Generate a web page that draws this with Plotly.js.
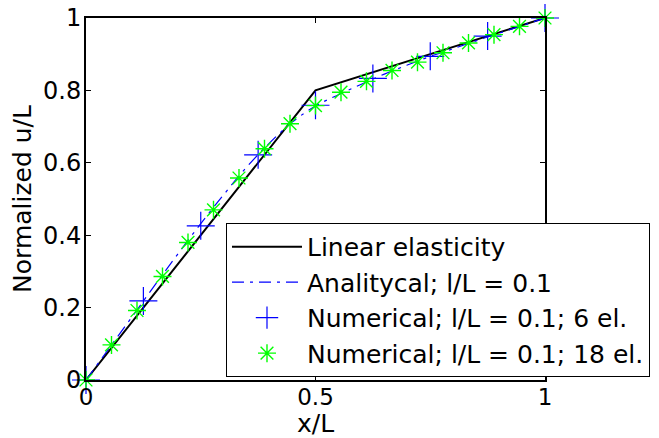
<!DOCTYPE html>
<html>
<head>
<meta charset="utf-8">
<script src="https://cdn.plot.ly/plotly-3.0.1.min.js"></script>
<style>html,body{margin:0;padding:0;background:#fff;}#chart{width:659px;height:438px;}</style>
</head>
<body>
<div id="chart"></div>
<script>
// Linear elasticity
var linX = [0, 0.5, 1];
var linY = [0, 0.8, 1];
// Analytical, l/L = 0.1
var anaX = [0, 0.05, 0.1, 0.15, 0.2, 0.25, 0.3, 0.35, 0.4, 0.45, 0.5, 0.55, 0.6, 0.65, 0.7, 0.75, 0.8, 0.85, 0.9, 0.95, 1];
var anaY = [0, 0.087, 0.174, 0.262, 0.348, 0.432, 0.512, 0.588, 0.655, 0.713, 0.757, 0.788, 0.817, 0.845, 0.870, 0.894, 0.915, 0.937, 0.958, 0.979, 1];
// Numerical, 6 el.
var num6X = [0, 0.125, 0.25, 0.375, 0.5, 0.625, 0.75, 0.875, 1];
var num6Y = [0, 0.2185, 0.426, 0.622, 0.759, 0.833, 0.894, 0.950, 1];
// Numerical, 18 el.
var num18X = [0, 1/18, 2/18, 3/18, 4/18, 5/18, 6/18, 7/18, 8/18, 9/18, 10/18, 11/18, 12/18, 13/18, 14/18, 15/18, 16/18, 17/18, 1];
var num18Y = [0, 0.097, 0.192, 0.286, 0.380, 0.470, 0.558, 0.639, 0.708, 0.758, 0.795, 0.825, 0.855, 0.878, 0.904, 0.931, 0.954, 0.977, 1];

var names = ['Linear elasticity', 'Analitycal; l/L = 0.1', 'Numerical; l/L = 0.1; 6 el.', 'Numerical; l/L = 0.1; 18 el.'];
var xTicks = [0, 0.5, 1];
var xTickText = ['0', '0.5', '1'];
var yTicks = [0, 0.2, 0.4, 0.6, 0.8, 1];
var yTickText = ['0', '0.2', '0.4', '0.6', '0.8', '1'];

var traces = [
  {x: linX, y: linY, name: names[0], mode: 'lines', line: {color: '#000000', width: 2}},
  {x: anaX, y: anaY, name: names[1], mode: 'lines', line: {color: '#0000ff', width: 1.2, dash: '12px,6px,3px,6px', shape: 'spline'}},
  {x: num6X, y: num6Y, name: names[2], mode: 'markers', cliponaxis: false,
   marker: {symbol: 'cross-thin-open', size: 20, color: '#0000ff', line: {color: '#0000ff', width: 1.2}}},
  {x: num18X, y: num18Y, name: names[3], mode: 'markers', cliponaxis: false,
   marker: {symbol: 'asterisk-open', size: 15, color: '#00ff00', line: {color: '#00ff00', width: 1.4}}}
];

var font = {family: '"DejaVu Sans", sans-serif', size: 25, color: '#000'};
var tickFont = {family: '"DejaVu Sans", sans-serif', size: 24, color: '#000'};
var xTickFont = {family: '"DejaVu Sans", sans-serif', size: 23, color: '#000'};
var axisCommon = {
  range: [0, 1], showgrid: false, zeroline: false, showline: true, mirror: 'ticks',
  linecolor: '#000', linewidth: 2, ticks: 'inside', ticklen: 5, tickwidth: 1, tickcolor: '#000',
  fixedrange: true
};
var layout = {
  width: 659, height: 438,
  margin: {l: 86, r: 114, t: 18, b: 58, autoexpand: false},
  paper_bgcolor: '#fff', plot_bgcolor: '#fff',
  font: font,
  showlegend: true,
  xaxis: Object.assign({}, axisCommon, {tickmode: 'array', tickvals: xTicks, ticktext: xTickText,
    tickfont: xTickFont, ticklabelstandoff: -5, title: {text: 'x/L', font: font}}),
  yaxis: Object.assign({}, axisCommon, {tickmode: 'array', tickvals: yTicks, ticktext: yTickText,
    tickfont: tickFont, ticklabelstandoff: -2, title: {text: 'Normalized u/L', font: font, standoff: 4}}),
  legend: {x: 0.305, y: 0.434, xanchor: 'left', yanchor: 'top', bgcolor: '#fff',
    bordercolor: '#000', borderwidth: 1, font: font, tracegroupgap: 0, itemwidth: 70}
};
Plotly.newPlot('chart', traces, layout, {staticPlot: true, displayModeBar: false});
</script>
</body>
</html>
